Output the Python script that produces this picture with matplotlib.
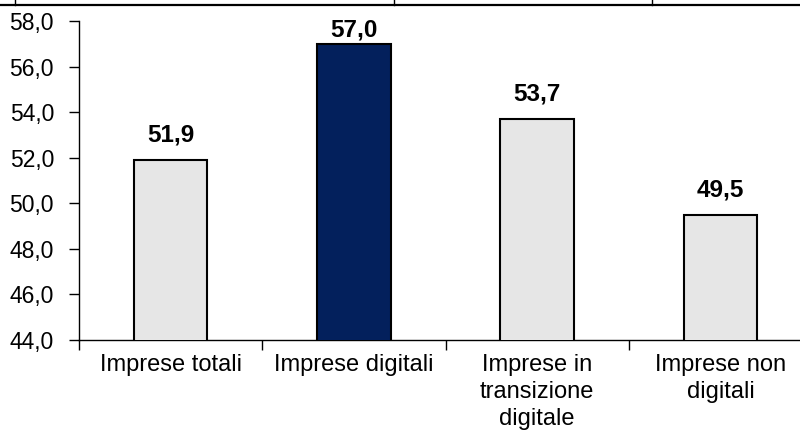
import matplotlib
matplotlib.use("Agg")
import matplotlib.pyplot as plt
from matplotlib.lines import Line2D

categories = ["Imprese totali", "Imprese digitali", "Imprese in\ntransizione\ndigitale", "Imprese non\ndigitali"]
values = [51.9, 57.0, 53.7, 49.5]
colors = ["#e6e6e6", "#03205c", "#e6e6e6", "#e6e6e6"]
y_ticks = [44, 46, 48, 50, 52, 54, 56, 58]

plt.rcParams['font.family'] = ['Liberation Sans Narrow', 'Liberation Sans', 'DejaVu Sans']

fig = plt.figure(figsize=(8, 4.41), dpi=100)
ax = fig.add_axes([79 / 800, 101 / 441, 733 / 800, 319 / 441])

x = range(len(categories))
ax.bar(x, values, width=0.4, color=colors, edgecolor="black", linewidth=1.5, zorder=3)

ax.set_xlim(-0.5, len(categories) - 0.5)
ax.set_ylim(44, 58)
ax.set_yticks(y_ticks)
ax.set_yticklabels([f"{t:.1f}".replace(".", ",") for t in y_ticks], fontsize=16.5)

ax.set_xticks([i + 0.5 for i in range(-1, len(categories))], minor=False)
ax.set_xticklabels([])
ax.set_xticks(list(x), minor=True)
ax.set_xticklabels(categories, minor=True, fontsize=17, linespacing=1.3)
ax.tick_params(axis="x", which="major", direction="out", length=7, width=1)
ax.tick_params(axis="x", which="minor", length=0, pad=10)
ax.tick_params(axis="y", direction="out", length=7, width=1, pad=11)

for s in ["top", "right"]:
  ax.spines[s].set_visible(False)
for s in ["left", "bottom"]:
  ax.spines[s].set_linewidth(1)

# value labels, kept inside the plot area like the original
for i, v in enumerate(values):
  ly = min(v + 0.79, 57.34)
  ax.text(i, ly, f"{v:.1f}".replace(".", ","), ha="center", va="baseline",
          fontsize=17.5, fontweight="bold")

# cropped border of the chart above
fig.add_artist(Line2D([0, 1], [1 - 4.5 / 441, 1 - 4.5 / 441], color="black", linewidth=1.6))
for tx in [15, 394, 652]:
  fig.add_artist(Line2D([tx / 800, tx / 800], [1 - 4.5 / 441, 1.0], color="black", linewidth=1))

fig.savefig("out.png", dpi=100)
